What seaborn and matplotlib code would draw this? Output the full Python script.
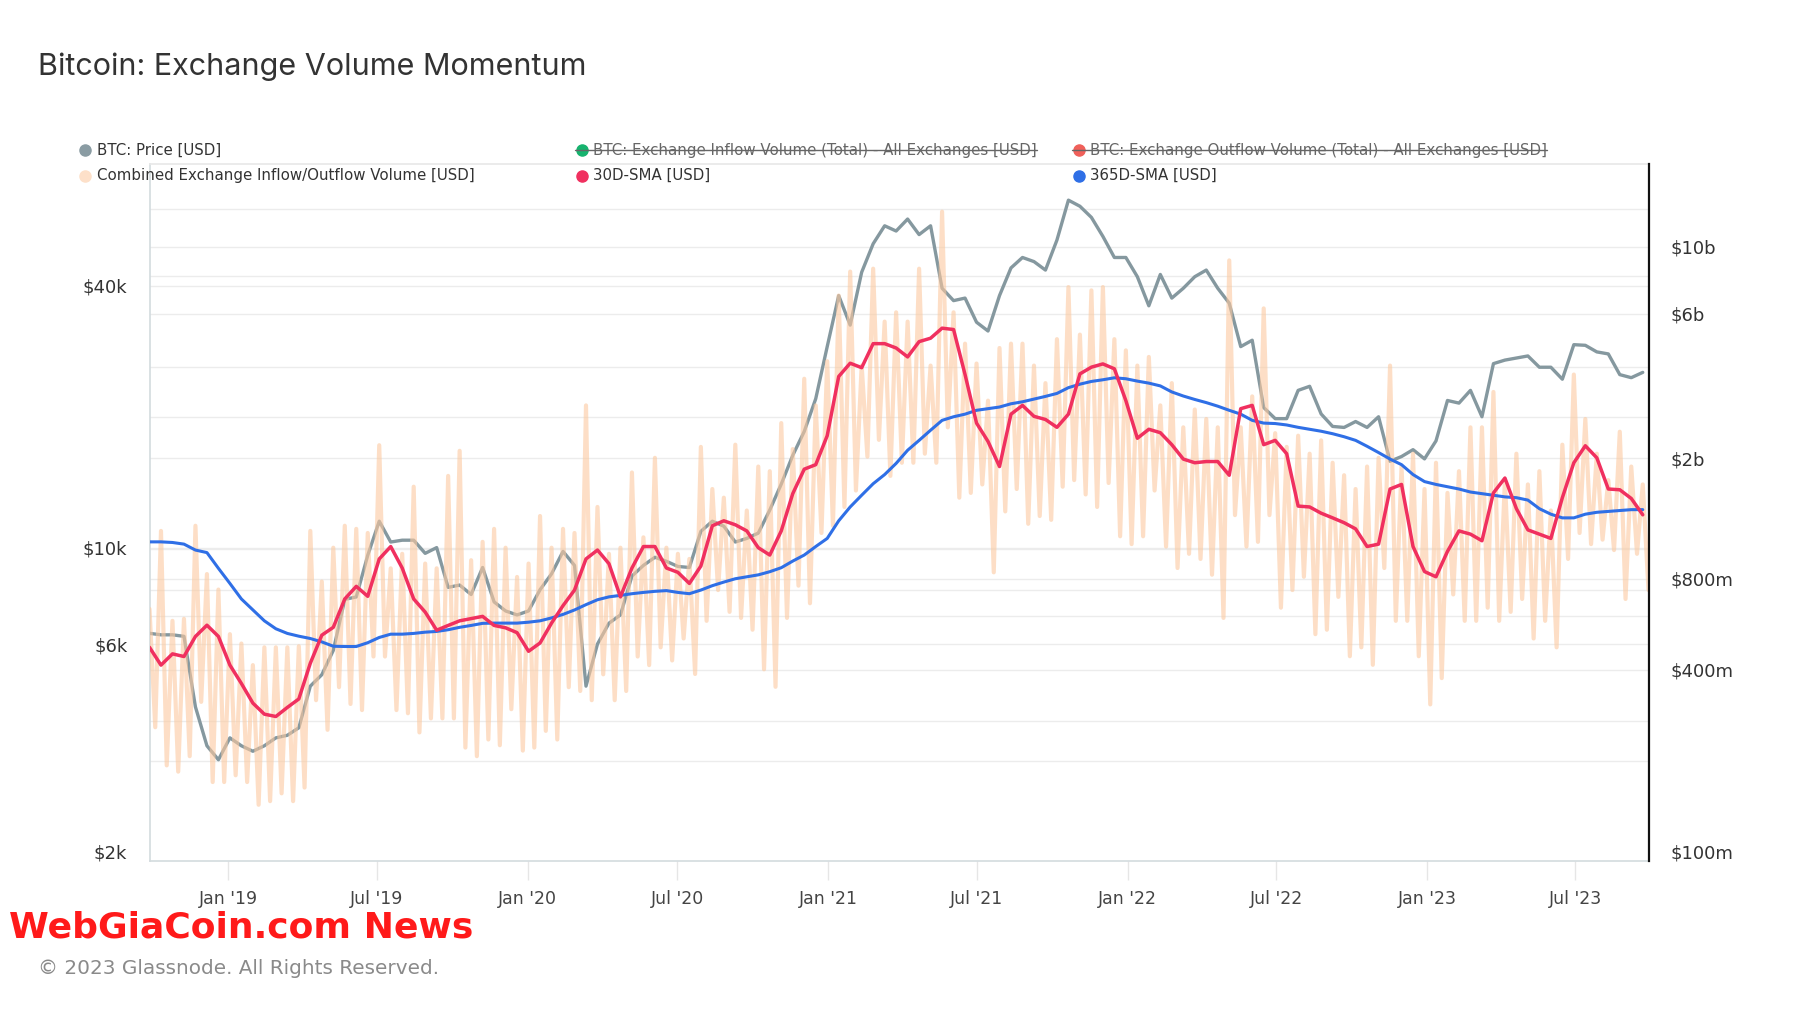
import numpy as np
import pandas as pd
import matplotlib
matplotlib.use("Agg")
import matplotlib.pyplot as plt
import matplotlib.dates as mdates
import matplotlib.transforms as mtransforms
from matplotlib.lines import Line2D
from matplotlib.ticker import FixedLocator, FixedFormatter, NullLocator
import seaborn as sns

# ---------------- data (one value every 14 days) ----------------
start_date = "2018-09-27"

price_usd = [6350, 6300, 6300, 6250, 4300, 3500, 3250, 3650, 3500, 3400,
             3500, 3650, 3700, 3850, 4800, 5100, 5800, 7600, 7700, 9600,
             11500, 10300, 10400, 10400, 9700, 10000, 8100, 8200, 7800, 9000,
             7500, 7150, 7000, 7150, 8000, 8700, 9800, 9100, 4800, 6000,
             6700, 7000, 8600, 9100, 9500, 9300, 9050, 9000, 10900, 11500,
             11200, 10300, 10500, 10800, 12200, 14000, 16300, 18500, 22000, 29000,
             38000, 32500, 43000, 50000, 55000, 53500, 57000, 52500, 55000, 39500,
             37000, 37500, 33000, 31500, 38000, 44000, 46500, 45500, 43500, 51000,
             63000, 61000, 57500, 52000, 46500, 46500, 42000, 36000, 42500, 37500,
             39500, 42000, 43500, 39500, 36500, 29000, 30000, 21000, 19800, 19800,
             23000, 23500, 20300, 19000, 18900, 19500, 18900, 20000, 15800, 16200,
             16800, 16000, 17600, 21800, 21500, 23000, 20000, 26500, 27000, 27300,
             27600, 26000, 26000, 24400, 29300, 29200, 28200, 27900, 25000, 24600,
             25300]

# combined exchange in/outflow volume, USD millions: local highs and lows
vol_high_musd = [635, 1150, 580, 589, 1196, 828, 736, 524, 488, 414,
                 474, 474, 474, 478, 1150, 782, 1012, 1196, 1168, 1132,
                 2208, 865, 966, 1610, 897, 865, 1748, 2116, 920, 1058,
                 1168, 1012, 810, 897, 1288, 1012, 1168, 1132, 2990, 1380,
                 966, 1012, 1794, 1095, 2006, 1012, 966, 929, 2180, 1582,
                 1481, 2217, 1343, 1877, 1812, 2613, 2144, 3662, 2990, 4186,
                 6900, 8280, 4048, 8464, 5658, 6072, 5658, 8464, 4048, 13064,
                 6072, 4784, 4112, 3100, 4628, 4784, 4784, 4048, 3542, 4950,
                 7360, 5124, 7176, 7360, 4950, 4545, 4048, 4324, 2990, 3542,
                 2530, 2898, 2696, 2530, 9016, 2530, 3202, 6256, 2420, 2180,
                 2374, 2070, 2291, 1932, 1757, 1582, 1877, 2006, 4048, 1877,
                 2070, 1582, 1932, 1536, 1812, 2530, 2530, 3312, 1693, 2070,
                 1638, 1812, 1343, 2217, 3781, 2696, 2070, 1693, 2447, 1877,
                 1638]

vol_low_musd = [258, 193, 184, 207, 313, 170, 170, 179, 170, 143,
                147, 156, 147, 163, 317, 253, 350, 308, 294, 442,
                442, 294, 287, 248, 276, 276, 276, 221, 207, 235,
                225, 296, 216, 221, 251, 235, 350, 340, 317, 386,
                317, 340, 442, 414, 474, 429, 507, 387, 580, 733,
                621, 593, 542, 401, 351, 593, 758, 663, 1132, 1196,
                1380, 1564, 2024, 2300, 1748, 1932, 1932, 2070, 1932, 2530,
                1481, 1536, 1638, 839, 1334, 1582, 1214, 1288, 1251, 1610,
                1693, 1518, 1380, 1656, 1104, 1040, 1104, 1564, 1021, 867,
                966, 929, 824, 593, 1297, 1021, 1058, 1297, 641, 733,
                811, 524, 542, 696, 443, 474, 415, 867, 580, 580,
                443, 307, 375, 709, 580, 580, 641, 580, 621, 685,
                507, 580, 474, 929, 1132, 1040, 1076, 994, 685, 966,
                733]

sma30_musd = [474, 414, 451, 442, 515, 561, 515, 414, 360, 310,
              285, 280, 300, 320, 420, 520, 552, 685, 754, 699,
              929, 1021, 867, 685, 620, 540, 560, 580, 590, 600,
              560, 550, 530, 460, 490, 570, 651, 733, 929, 994,
              896, 696, 867, 1021, 1021, 867, 839, 771, 880, 1196,
              1242, 1205, 1150, 1012, 957, 1150, 1527, 1840, 1904, 2374,
              3726, 4122, 3984, 4784, 4784, 4628, 4324, 4858, 4986, 5382,
              5327, 3781, 2613, 2272, 1877, 2797, 2990, 2751, 2686, 2530,
              2797, 3800, 4000, 4100, 3950, 3100, 2328, 2493, 2429, 2217,
              1987, 1932, 1950, 1950, 1757, 2916, 2990, 2217, 2291, 2070,
              1389, 1380, 1316, 1270, 1224, 1168, 1021, 1040, 1582, 1638,
              1021, 844, 811, 984, 1150, 1122, 1067, 1536, 1720, 1362,
              1159, 1122, 1086, 1481, 1932, 2199, 2006, 1582, 1573, 1472,
              1300]

sma365_musd = [1058, 1058, 1053, 1040, 994, 975, 865, 771, 685, 630,
               580, 546, 527, 516, 507, 494, 478, 477, 477, 491,
               511, 524, 524, 527, 532, 535, 542, 552, 560, 569,
               570, 570, 570, 574, 580, 593, 609, 630, 656, 681,
               696, 704, 713, 720, 726, 730, 720, 713, 733, 758,
               779, 799, 811, 823, 843, 869, 914, 957, 1021, 1086,
               1242, 1380, 1509, 1647, 1766, 1923, 2125, 2291, 2475, 2668,
               2742, 2797, 2880, 2916, 2953, 3027, 3073, 3137, 3202, 3275,
               3422, 3514, 3588, 3634, 3689, 3662, 3597, 3542, 3468, 3312,
               3211, 3128, 3054, 2972, 2880, 2797, 2668, 2613, 2604, 2576,
               2530, 2493, 2456, 2410, 2355, 2291, 2190, 2088, 1987, 1904,
               1766, 1674, 1638, 1610, 1582, 1546, 1527, 1509, 1490, 1481,
               1454, 1362, 1306, 1270, 1270, 1306, 1325, 1334, 1343, 1352,
               1352]

price_ticks = [2000, 6000, 10000, 40000]
price_tick_labels = ["$2k", "$6k", "$10k", "$40k"]
price_grid = [4000, 6000, 8000, 10000, 20000, 40000, 60000]
vol_ticks_musd = [100, 400, 800, 2000, 6000, 10000]
vol_tick_labels = ["$100m", "$400m", "$800m", "$2b", "$6b", "$10b"]
vol_grid_musd = [200, 400, 600, 800, 1000, 2000, 4000, 6000, 8000, 10000]
x_tick_dates = ["2019-01-01", "2019-07-01", "2020-01-01", "2020-07-01", "2021-01-01",
                "2021-07-01", "2022-01-01", "2022-07-01", "2023-01-01", "2023-07-01"]
x_tick_labels = ["Jan '19", "Jul '19", "Jan '20", "Jul '20", "Jan '21",
                 "Jul '21", "Jan '22", "Jul '22", "Jan '23", "Jul '23"]

legend_items = [
    ("BTC: Price [USD]", "#8a9ca3", False),
    ("BTC: Exchange Inflow Volume (Total) - All Exchanges [USD]", "#16b36e", True),
    ("BTC: Exchange Outflow Volume (Total) - All Exchanges [USD]", "#f0605a", True),
    ("Combined Exchange Inflow/Outflow Volume [USD]", "#fde0c9", False),
    ("30D-SMA [USD]", "#f0305f", False),
    ("365D-SMA [USD]", "#2f6fe6", False),
]

# ---------------- frames ----------------
n = len(price_usd)
dates = pd.date_range(start_date, periods=n, freq="14D")
df = pd.DataFrame({"date": dates, "price": price_usd,
                   "sma30": np.array(sma30_musd) * 1e6,
                   "sma365": np.array(sma365_musd) * 1e6})
vol_dates = np.empty(2 * n, dtype="datetime64[ns]")
vol_vals = np.empty(2 * n)
vol_dates[0::2] = dates.values
vol_dates[1::2] = (dates + pd.Timedelta(days=7)).values
vol_vals[0::2] = np.array(vol_high_musd) * 1e6
vol_vals[1::2] = np.array(vol_low_musd) * 1e6
df_vol = pd.DataFrame({"date": vol_dates, "vol": vol_vals})

# ---------------- style ----------------
sns.set_theme(style="white")
plt.rcParams["font.family"] = ["DejaVu Sans"]

fig = plt.figure(figsize=(18, 10.13), dpi=100)
fig.patch.set_facecolor("white")
L, R, B, T = 149.5 / 1800, 1648.5 / 1800, 1 - 861 / 1013, 1 - 164 / 1013
ax = fig.add_axes([L, B, R - L, T - B])
ax2 = ax.twinx()

ax.set_yscale("log")
ax2.set_yscale("log")
ax.set_ylim(1901, 76300)
ax2.set_ylim(93.2e6, 18.78e9)
x0 = pd.Timestamp("2018-09-27")
x1 = pd.Timestamp("2023-09-28")

# gridlines (behind everything, drawn on the bottom axes)
for v in price_grid:
    ax.axhline(v, color="#ececec", lw=1.0, zorder=0)
blend = mtransforms.blended_transform_factory(ax.transAxes, ax2.transData)
for v in vol_grid_musd:
    ax.add_line(Line2D([0, 1], [v * 1e6, v * 1e6], transform=blend,
                       color="#ececec", lw=1.0, zorder=0))

# price on left axis
sns.lineplot(data=df, x="date", y="price", ax=ax, color="#85989f", lw=2.4,
             estimator=None, legend=False, zorder=3)
# volume on right axis
sns.lineplot(data=df_vol, x="date", y="vol", ax=ax2, color="#fcc9a0", alpha=0.6,
             lw=3.0, estimator=None, legend=False, zorder=2)
sns.lineplot(data=df, x="date", y="sma365", ax=ax2, color="#2f6fe6", lw=2.2,
             estimator=None, legend=False, zorder=4)
sns.lineplot(data=df, x="date", y="sma30", ax=ax2, color="#f0305f", lw=2.5,
             estimator=None, legend=False, zorder=5)

ax.set_xlim(x0, x1)
ax2.set_xlim(x0, x1)

# axes ticks
ax.yaxis.set_major_locator(FixedLocator(price_ticks))
ax.yaxis.set_major_formatter(FixedFormatter(price_tick_labels))
ax.yaxis.set_minor_locator(NullLocator())
ax2.yaxis.set_major_locator(FixedLocator([v * 1e6 for v in vol_ticks_musd]))
ax2.yaxis.set_major_formatter(FixedFormatter(vol_tick_labels))
ax2.yaxis.set_minor_locator(NullLocator())
ax.tick_params(axis="y", length=0, pad=16, labelsize=13, labelcolor="#333333")
ax2.tick_params(axis="y", length=0, pad=16, labelsize=13, labelcolor="#333333")

xt = [mdates.date2num(pd.Timestamp(d)) for d in x_tick_dates]
ax.xaxis.set_major_locator(FixedLocator(xt))
ax.xaxis.set_major_formatter(FixedFormatter(x_tick_labels))
ax.xaxis.set_minor_locator(NullLocator())
ax.tick_params(axis="x", length=14, width=1, color="#e6e6e6", pad=7,
               labelsize=12.5, labelcolor="#444444", bottom=True)
ax2.tick_params(axis="x", length=0)
ax.set_xlabel("")
ax.set_ylabel("")
ax2.set_xlabel("")
ax2.set_ylabel("")

for s in ["left", "bottom"]:
    ax.spines[s].set_color("#d3dbde")
    ax.spines[s].set_linewidth(1.2)
ax.spines["top"].set_color("#e8e8e8")
ax.spines["right"].set_visible(False)
for s in ["left", "bottom", "top"]:
    ax2.spines[s].set_visible(False)
ax2.spines["right"].set_color("#111111")
ax2.spines["right"].set_linewidth(1.6)

# ---------------- title, legend, footer ----------------
fig.text(38 / 1800, 1 - 66.5 / 1013, "Bitcoin: Exchange Volume Momentum",
         fontsize=22, color="#333333", va="center", ha="left",
         family=["Inter", "DejaVu Sans"])

dot_x = [85, 582, 1079]
txt_x = [97, 593, 1090]
row_y = [150.2, 175.7]
fig.canvas.draw()
renderer = fig.canvas.get_renderer()
for k, (label, col, struck) in enumerate(legend_items):
    r, c = divmod(k, 3)
    yf = 1 - row_y[r] / 1013
    fig.add_artist(Line2D([dot_x[c] / 1800], [yf], marker="o", markersize=8,
                          color=col, lw=0, transform=fig.transFigure))
    t = fig.text(txt_x[c] / 1800, yf, label, fontsize=10.8,
                 color="#666666" if struck else "#333333", va="center", ha="left")
    if struck:
        bb = t.get_window_extent(renderer=renderer)
        fig.add_artist(Line2D([(dot_x[c] - 7) / 1800, bb.x1 / 1800], [yf, yf],
                              color="#666666", lw=1.0, transform=fig.transFigure))

fig.text(9 / 1800, 1 - 927 / 1013, "WebGiaCoin.com News", fontsize=26,
         fontweight="bold", color="#ff1a1a", va="center", ha="left",
         family=["Liberation Sans Narrow", "DejaVu Sans"])
fig.text(38 / 1800, 1 - 968 / 1013, "\u00a9 2023 Glassnode. All Rights Reserved.",
         fontsize=14.4, color="#8a8a8a", va="center", ha="left")

fig.savefig("out.png", dpi=100, facecolor="white")
